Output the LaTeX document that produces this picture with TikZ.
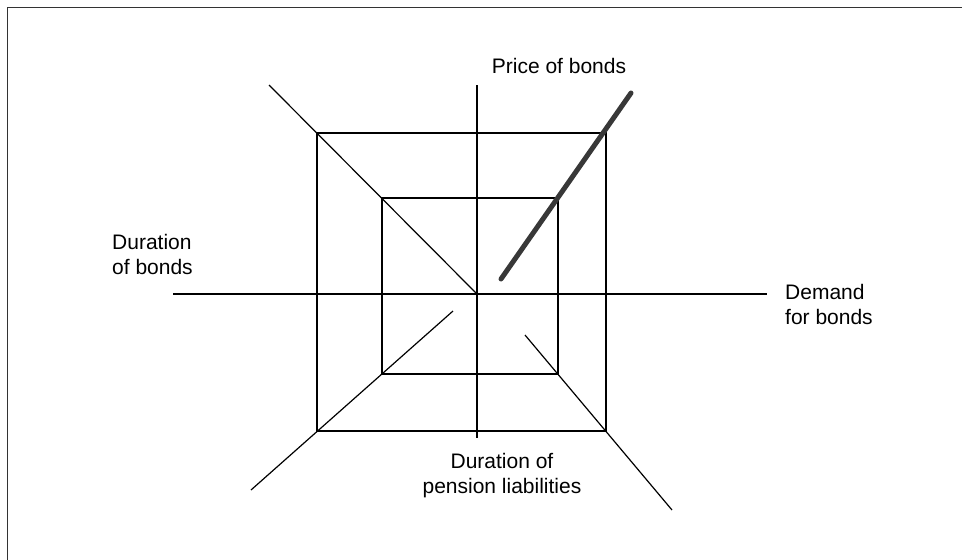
\documentclass[tikz,border=0pt]{standalone}
\usepackage{fontspec}
\setmainfont{Liberation Sans}
\begin{document}
\begin{tikzpicture}[x=1pt,y=-1pt,
    axisline/.style={line width=1.2pt},
    curveline/.style={line width=5pt,color=black!78,line cap=round},
    lbl/.style={inner sep=0pt,font=\fontsize{21}{25}\selectfont}]
    \useasboundingbox (0,0) rectangle (962,560);
    \coordinate (f1) at (7.5,560);
    \coordinate (f2) at (7.5,7.5);
    \coordinate (f3) at (962,7.5);
    \draw[line width=1.5pt,black!80] (f1) -- (f2) -- (f3);
    \coordinate (o)  at (477,294);
    \coordinate (xl) at (173,294);
    \coordinate (xr) at (767,294);
    \coordinate (yt) at (477,85);
    \coordinate (yb) at (477,438);
    \coordinate (a1) at (317,133);
    \coordinate (a2) at (606,133);
    \coordinate (a3) at (606,431);
    \coordinate (a4) at (317,431);
    \coordinate (b1) at (382,198);
    \coordinate (b2) at (558,198);
    \coordinate (b3) at (558,374);
    \coordinate (b4) at (382,374);
    \coordinate (nw) at (269,85);
    \coordinate (sw1) at (453,311);
    \coordinate (sw2) at (251,490);
    \coordinate (se1) at (525,335);
    \coordinate (se2) at (672,510);
    \coordinate (p1) at (501,279);
    \coordinate (p2) at (631,93);
    \draw[axisline] (xl) -- (xr);
    \draw[axisline] (yt) -- (yb);
    \foreach \s in {a,b}
        \draw[axisline] (\s1) -- (\s2) -- (\s3) -- (\s4) -- cycle;
    \draw[axisline] (nw) -- (o);
    \draw[axisline] (sw1) -- (sw2);
    \draw[axisline] (se1) -- (se2);
    \draw[curveline] (p1) -- (p2);
    \node[lbl,anchor=base] (price) at (559,73) {Price of bonds};
    \node[lbl,anchor=north west,align=left] (durb) at (112,234) {Duration\\of bonds};
    \node[lbl,anchor=north west,align=left] (dem) at (785,284) {Demand\\for bonds};
    \node[lbl,anchor=north,align=center] (pens) at (502,453) {Duration of\\pension liabilities};
\end{tikzpicture}
\end{document}
